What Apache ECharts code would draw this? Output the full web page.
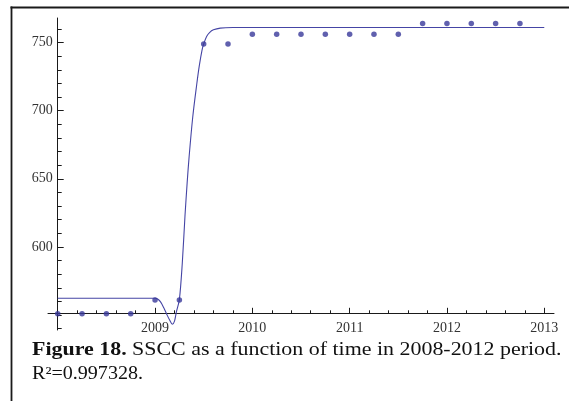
<!DOCTYPE html>
<html><head><meta charset="utf-8">
<script src="https://cdn.jsdelivr.net/npm/echarts@6/dist/echarts.min.js"></script>
<style>html,body{margin:0;padding:0;background:#fff}#c{width:569px;height:401px}</style>
</head><body><div id="c"></div>
<script>
// Observed data points (year, SSCC)
const pointYears = [2008.0, 2008.25, 2008.5, 2008.75, 2009.0, 2009.25, 2009.5, 2009.75, 2010.0, 2010.25, 2010.5, 2010.75, 2011.0, 2011.25, 2011.5, 2011.75, 2012.0, 2012.25, 2012.5, 2012.75];
const pointValues = [551, 551, 551, 551, 561, 561, 749, 749, 756, 756, 756, 756, 756, 756, 756, 764, 764, 764, 764, 764];
// Fitted curve
const fitYears = [2008.0, 2009.0, 2009.03, 2009.06, 2009.09, 2009.12, 2009.15, 2009.178, 2009.2, 2009.22, 2009.25, 2009.28, 2009.308, 2009.33, 2009.35, 2009.387, 2009.428, 2009.455, 2009.483, 2009.5, 2009.53, 2009.56, 2009.6, 2009.67, 2009.8, 2013.0];
const fitValues = [562.3, 562.3, 561.6, 559.3, 555.3, 550.6, 546.3, 543.2, 545.5, 552.5, 561.3, 588, 623, 647, 666, 695, 719, 733, 744.5, 749, 754.5, 757.3, 759.3, 760.6, 761, 761];
// Ticks and labels
const xMajorTicks = [2008, 2009, 2010, 2011, 2012, 2013];
const xLabels = [2009, 2010, 2011, 2012, 2013];
const xMinorTicks = [2008.2, 2008.4, 2008.6, 2008.8, 2009.2, 2009.4, 2009.6, 2009.8, 2010.2, 2010.4, 2010.6, 2010.8, 2011.2, 2011.4, 2011.6, 2011.8, 2012.2, 2012.4, 2012.6, 2012.8];
const yMajorTicks = [600, 650, 700, 750];
const yLabels = [600, 650, 700, 750];
const yMinorTicks = [540, 550, 560, 570, 580, 590, 610, 620, 630, 640, 660, 670, 680, 690, 710, 720, 730, 740, 760];
const captionBold = 'Figure 18.';
const captionRest = ' SSCC as a function of time in 2008-2012 period.';
const captionLine2 = 'R\u00B2=0.997328.';

function measure(text, font) {
  const ctx = document.createElement('canvas').getContext('2d');
  ctx.font = font;
  return ctx.measureText(text).width;
}
const FF = '"Liberation Serif"';
const w1 = measure(captionBold, 'bold 18px ' + FF) + measure(captionRest, '18px ' + FF);
const w2 = measure(captionLine2, '18px ' + FF);
const s1 = 529.5 / w1;
const s2 = 111 / w2;

const axisColor = '#1a1a1a';
const labelStyle = { fontFamily: 'Liberation Serif', fontSize: 14, color: '#333' };
const fmt = v => String(Math.round(v));

const chart = echarts.init(document.getElementById('c'), null, { renderer: 'canvas' });
chart.setOption({
  backgroundColor: '#fff',
  animation: false,
  grid: { left: 48, right: 15, top: 18, bottom: 71 },
  xAxis: [
    {
      type: 'value', min: 2007.9, max: 2013.1, position: 'bottom', offset: -16.7,
      axisLine: { show: true, onZero: false, lineStyle: { color: axisColor, width: 1 } },
      axisTick: { show: true, inside: true, length: 5.5, customValues: xMajorTicks, lineStyle: { color: axisColor } },
      axisLabel: Object.assign({ customValues: xLabels, margin: 8.5, formatter: fmt }, labelStyle),
      splitLine: { show: false }
    },
    {
      type: 'value', min: 2007.9, max: 2013.1, position: 'bottom', offset: -16.7,
      axisLine: { show: false, onZero: false },
      axisTick: { show: true, inside: true, length: 3, customValues: xMinorTicks, lineStyle: { color: axisColor } },
      axisLabel: { show: false },
      splitLine: { show: false }
    }
  ],
  yAxis: [
    {
      type: 'value', min: 539, max: 768, position: 'left', offset: -9.7,
      axisLine: { show: true, onZero: false, lineStyle: { color: axisColor, width: 1 } },
      axisTick: { show: true, inside: true, length: 6, customValues: yMajorTicks, lineStyle: { color: axisColor } },
      axisLabel: Object.assign({ customValues: yLabels, margin: 5, formatter: fmt }, labelStyle),
      splitLine: { show: false }
    },
    {
      type: 'value', min: 539, max: 768, position: 'left', offset: -9.7,
      axisLine: { show: false, onZero: false },
      axisTick: { show: true, inside: true, length: 4, customValues: yMinorTicks, lineStyle: { color: axisColor } },
      axisLabel: { show: false },
      splitLine: { show: false }
    }
  ],
  series: [
    {
      type: 'line', xAxisIndex: 0, yAxisIndex: 0,
      data: fitYears.map((x, i) => [x, fitValues[i]]),
      showSymbol: false, smooth: 0.3,
      lineStyle: { color: '#4545a5', width: 1.1 },
      z: 2
    },
    {
      type: 'scatter', xAxisIndex: 0, yAxisIndex: 0,
      data: pointYears.map((x, i) => [x, pointValues[i]]),
      symbolSize: 5.5,
      itemStyle: { color: '#38389a' },
      z: 3
    }
  ],
  graphic: [
    { type: 'line', shape: { x1: 10.5, y1: 7.5, x2: 569, y2: 7.5 }, style: { stroke: '#1a1a1a', lineWidth: 2 } },
    { type: 'line', shape: { x1: 11.5, y1: 6.5, x2: 11.5, y2: 401 }, style: { stroke: '#1a1a1a', lineWidth: 1.8 } },
    {
      type: 'text', x: 32, y: 350.6, scaleX: s1,
      style: {
        text: '{b|' + captionBold + '}' + captionRest,
        fontFamily: 'Liberation Serif', fontSize: 18, fill: '#111',
        verticalAlign: 'middle', align: 'left',
        rich: { b: { fontWeight: 'bold', fontFamily: 'Liberation Serif', fontSize: 18, fill: '#111' } }
      }
    },
    {
      type: 'text', x: 32, y: 374.6, scaleX: s2,
      style: {
        text: captionLine2,
        fontFamily: 'Liberation Serif', fontSize: 18, fill: '#111',
        verticalAlign: 'middle', align: 'left'
      }
    }
  ]
});
</script>
</body></html>
